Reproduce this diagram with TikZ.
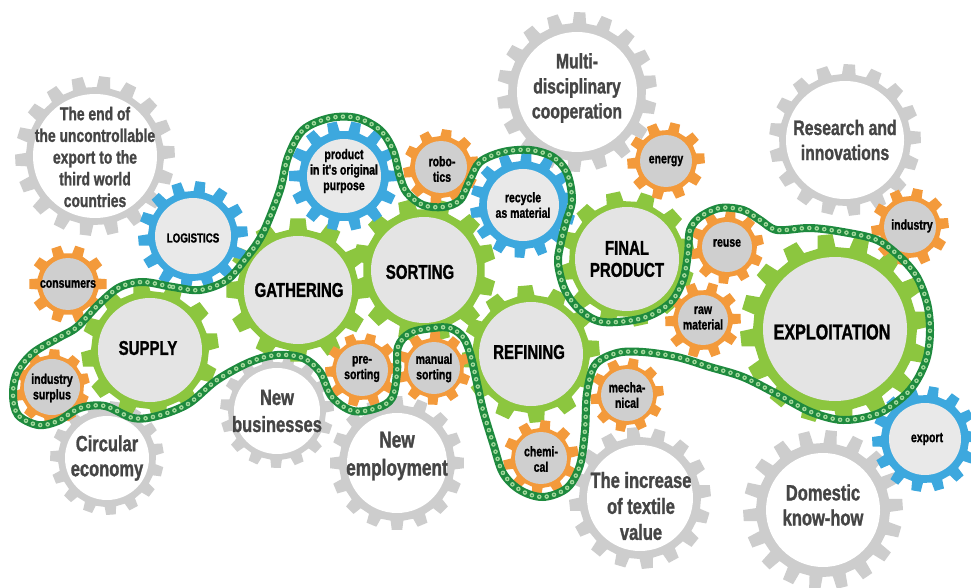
\documentclass[tikz,border=0pt]{standalone}
\usepackage{fontspec}
\newfontfamily\gf{Liberation Sans}[FakeStretch=0.75, BoldFeatures={FakeBold=1.2}]
\definecolor{ggray}{HTML}{CDCDCD}
\definecolor{ggreen}{HTML}{8CC63F}
\definecolor{gblue}{HTML}{3DA8DE}
\definecolor{gorange}{HTML}{F39A3B}
\definecolor{innerg}{HTML}{E4E4E4}
\definecolor{innerb}{HTML}{E9E9E9}
\definecolor{innero}{HTML}{CFCFCF}
\definecolor{chaindark}{HTML}{1E8A3E}
\definecolor{chainlight}{HTML}{A3D99C}
\definecolor{graytext}{HTML}{454545}
\newcommand{\mygear}[9]{% ring colour, inner colour, cx, cy, rin, rroot, rtip, N, phase
  \pgfmathsetmacro{\gbh}{0.28*360/#8}%
  \pgfmathsetmacro{\gth}{0.2*360/#8}%
  \begin{scope}[shift={(#3,#4)}]
    \fill[#1] ({#9+\gbh}:#6pt) \foreach \k in {1,...,#8}{
      -- ({#9+\k*360/#8-\gbh}:#6pt) -- ({#9+\k*360/#8-\gth}:#7pt)
      -- ({#9+\k*360/#8+\gth}:#7pt) -- ({#9+\k*360/#8+\gbh}:#6pt)} -- cycle;
    \fill[#2] (0,0) circle (#5pt);
  \end{scope}}
\begin{document}
\begin{tikzpicture}[x=1pt,y=-1pt,
  graylbl/.style={font=\gf\bfseries\fontsize{21}{25}\selectfont, text=graytext, align=center, inner sep=0pt},
  biglbl/.style={font=\gf\bfseries\fontsize{20}{22}\selectfont, text=black, align=center, inner sep=0pt},
  smalllbl/.style={font=\gf\bfseries\fontsize{14}{15.5}\selectfont, text=black, align=center, inner sep=0pt},
  chain/.style={draw=chaindark, line width=8pt,
    postaction={draw=chainlight, line width=4.6pt, dash pattern=on 0pt off 7.5pt, line cap=round},
    postaction={draw=chaindark, line width=1.7pt, dash pattern=on 0pt off 7.5pt, line cap=round}}]
\useasboundingbox (0,0) rectangle (971,588);
\fill[white] (0,0) rectangle (971,588);
\clip (0,0) rectangle (971,588);
% gray gears
\mygear{ggray}{white}{95}{156}{62}{69}{80}{18}{3}
\mygear{ggray}{white}{577}{92}{60}{69}{80}{18}{8}
\mygear{ggray}{white}{845}{140}{59}{66}{76}{17}{2}
\mygear{ggray}{white}{277}{411}{43}{49}{57}{15}{5}
\mygear{ggray}{white}{107}{458}{42}{49}{57}{15}{10}
\mygear{ggray}{white}{397}{463}{50}{58}{67}{16}{0}
\mygear{ggray}{white}{640}{498}{53}{61}{71}{16}{6}
\mygear{ggray}{white}{823}{510}{57}{67}{80}{18}{4}
% green gears
\mygear{ggreen}{innerg}{150}{350}{52}{59}{69}{12}{8}
\mygear{ggreen}{innerg}{298}{290}{54}{61}{72}{12}{0}
\mygear{ggreen}{innerg}{424}{270}{53}{61}{72}{12}{15}
\mygear{ggreen}{innerg}{531}{354}{52}{59}{69}{12}{5}
\mygear{ggreen}{innerg}{627}{259}{52}{58}{68}{12}{12}
\mygear{ggreen}{innerg}{835}{329}{72}{82}{95}{16}{6}
% orange gears
\mygear{gorange}{innero}{68}{284}{26}{31}{39}{10}{0}
\mygear{gorange}{innero}{441}{167}{26}{31}{38}{10}{9}
\mygear{gorange}{innero}{666}{161}{26}{31}{39}{10}{4}
\mygear{gorange}{innero}{727}{247}{25}{30}{37}{10}{12}
\mygear{gorange}{innero}{703}{320}{25}{30}{38}{10}{2}
\mygear{gorange}{innero}{910}{227}{26}{31}{39}{10}{6}
\mygear{gorange}{innero}{52}{387}{28}{32}{38}{10}{14}
\mygear{gorange}{innero}{362}{370}{26}{30}{37}{10}{3}
\mygear{gorange}{innero}{434}{368}{26}{30}{37}{10}{16}
\mygear{gorange}{innero}{627}{395}{26}{30}{37}{10}{7}
\mygear{gorange}{innero}{541}{458}{26}{30}{38}{10}{11}
% blue gears
\mygear{gblue}{innerb}{193}{236}{38}{45}{55}{14}{5}
\mygear{gblue}{innerb}{344}{176}{37}{45}{55}{14}{0}
\mygear{gblue}{innerb}{523}{205}{36}{44}{53}{14}{9}
\mygear{gblue}{innerb}{925}{439}{36}{44}{53}{14}{3}
% chain
\path[chain] plot[smooth cycle, tension=0.55] coordinates {
 (143,282) (173,287) (200,290) (227,280) (247,257) (263,233) (280,190) (288,157)
 (303,130) (330,118) (357,118) (380,130) (393,150) (400,177) (407,193) (423,205)
 (443,207) (460,200) (470,180) (480,162) (503,152) (530,150) (553,157) (567,173)
 (572,200) (566,222) (561,242) (558,263) (565,290) (580,310) (603,322) (643,318)
 (670,303) (683,280) (688,253) (690,230) (700,217) (720,208) (743,210) (760,220)
 (777,230) (810,228) (843,232) (877,240) (900,257) (917,277) (927,303) (930,330)
 (927,357) (917,380) (903,397) (877,414) (843,420) (811,412) (777,394) (743,377)
 (710,367) (677,357) (643,352) (617,353) (595,365) (587,393) (585,430) (580,465)
 (567,488) (543,497) (520,490) (503,473) (493,443) (483,410) (477,383) (470,353)
 (463,337) (450,328) (433,328) (410,333) (398,347) (397,373) (392,398) (377,408)
 (353,411) (332,397) (320,372) (303,358) (277,355) (250,362) (217,380) (188,404)
 (157,416) (133,418) (105,406) (80,408) (58,421) (38,425) (18,415) (13,395)
 (17,373) (33,353) (60,337) (77,327) (100,303) (120,287)};
% gray labels
\node[graylbl, font=\gf\bfseries\fontsize{18.5}{21.7}\selectfont] (tend) at (95,157) {The end of\\the uncontrollable\\export to the\\third world\\countries};
\node[graylbl] (tmulti) at (577,88) {Multi-\\disciplinary\\cooperation};
\node[graylbl] (tresearch) at (845,140) {Research and\\innovations};
\node[graylbl, font=\gf\bfseries\fontsize{22}{27}\selectfont] (tnewbus) at (277,411) {New\\businesses};
\node[graylbl, font=\gf\bfseries\fontsize{22}{25}\selectfont] (tcirc) at (107,458) {Circular\\economy};
\node[graylbl, font=\gf\bfseries\fontsize{23}{28}\selectfont] (tnewemp) at (397,456) {New\\employment};
\node[graylbl, font=\gf\bfseries\fontsize{22}{26}\selectfont] (tincr) at (641,506) {The increase\\of textile\\value};
\node[graylbl, font=\gf\bfseries\fontsize{22}{25}\selectfont] (tdom) at (823,505) {Domestic\\know-how};
% green labels
\node[biglbl] (tsupply) at (148,348) {SUPPLY};
\node[biglbl] (tgather) at (299,290) {GATHERING};
\node[biglbl] (tsort) at (420,272) {SORTING};
\node[biglbl] (trefine) at (529,352) {REFINING};
\node[biglbl] (tfinal) at (627,259) {FINAL\\PRODUCT};
\node[biglbl, font=\gf\bfseries\fontsize{21.5}{24}\selectfont] (texploit) at (832,332) {EXPLOITATION};
% blue labels
\node[smalllbl, font=\gf\bfseries\fontsize{13}{15}\selectfont] (tlog) at (193,238) {LOGISTICS};
\node[smalllbl] (tprod) at (344,171) {product\\in it's original\\purpose};
\node[smalllbl] (trecycle) at (523,205) {recycle\\as material};
\node[smalllbl] (texport) at (927,439) {export};
% orange labels
\node[smalllbl] (trobo) at (442,169) {robo-\\tics};
\node[smalllbl] (tenergy) at (666,161) {energy};
\node[smalllbl] (treuse) at (727,243) {reuse};
\node[smalllbl] (traw) at (703,318) {raw\\material};
\node[smalllbl] (tind) at (912,226) {industry};
\node[smalllbl] (tcons) at (68,284) {consumers};
\node[smalllbl] (tsurplus) at (52,388) {industry\\surplus};
\node[smalllbl] (tpre) at (362,369) {pre-\\sorting};
\node[smalllbl] (tmanual) at (434,368) {manual\\sorting};
\node[smalllbl] (tmech) at (627,395) {mecha-\\nical};
\node[smalllbl] (tchem) at (541,459) {chemi-\\cal};
\end{tikzpicture}
\end{document}
